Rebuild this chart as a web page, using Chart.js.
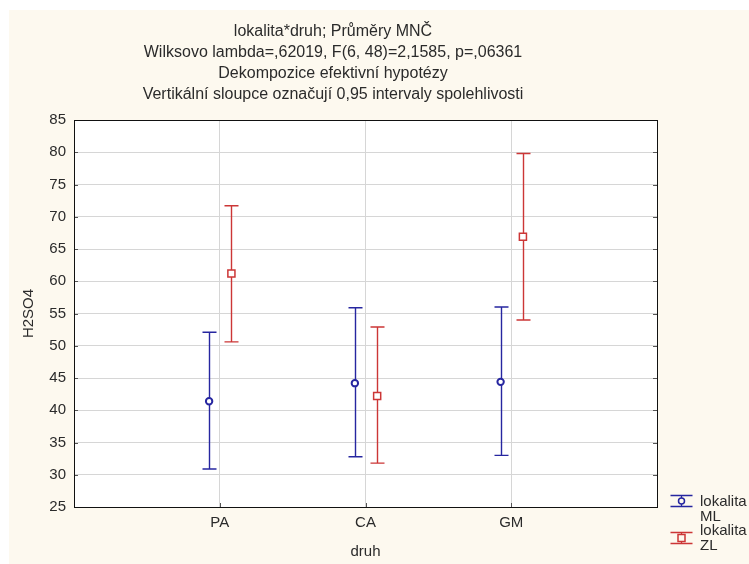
<!DOCTYPE html>
<html>
<head>
<meta charset="utf-8">
<script src="https://cdn.jsdelivr.net/npm/chart.js@4/dist/chart.umd.min.js"></script>
<style>
  html, body { margin: 0; padding: 0; background: #ffffff; }
  #wrap { position: relative; width: 749px; height: 564px; }
</style>
</head>
<body>
<div id="wrap"><canvas id="c" width="749" height="564"></canvas></div>
<script>
// ---- data ----
const categories = ['PA', 'CA', 'GM'];
const mlMean = [41.4, 44.2, 44.4];
const mlLow  = [30.9, 32.8, 33.0];
const mlHigh = [52.1, 55.9, 56.0];
const zlMean = [61.2, 42.2, 66.9];
const zlLow  = [50.6, 31.8, 54.0];
const zlHigh = [71.7, 52.9, 79.8];
const yTickValues = [25, 30, 35, 40, 45, 50, 55, 60, 65, 70, 75, 80, 85];
const seriesLabels = [['lokalita', 'ML'], ['lokalita', 'ZL']];
const titleLines = [
  'lokalita*druh; Průměry MNČ',
  'Wilksovo lambda=,62019, F(6, 48)=2,1585, p=,06361',
  'Dekompozice efektivní hypotézy',
  'Vertikální sloupce označují 0,95 intervaly spolehlivosti'
];
const xTitle = 'druh';
const yTitle = 'H2SO4';

// ---- styling ----
const BLUE = '#2626a0';
const RED = '#cc3636';
const TEXT = '#2b2b2b';
const FONT = "'Liberation Sans', Arial, sans-serif";
const OFF_ML = -0.073, OFF_ZL = 0.08;

function pts(means, lows, highs, off) {
  return means.map((m, i) => ({ x: i + 1 + off, y: m, lo: lows[i], hi: highs[i] }));
}

const bgPlugin = {
  id: 'bg',
  beforeDraw(chart) {
    const { ctx, chartArea: a } = chart;
    ctx.save();
    ctx.fillStyle = '#ffffff';
    ctx.fillRect(0, 0, chart.width, chart.height);
    ctx.fillStyle = '#fdf9ef';
    ctx.fillRect(9, 10, chart.width - 9, chart.height - 10);
    ctx.fillStyle = '#ffffff';
    ctx.fillRect(a.left, a.top, a.right - a.left, a.bottom - a.top);
    ctx.restore();
  }
};

const errorBars = {
  id: 'errorBars',
  beforeDatasetsDraw(chart) {
    const { ctx, scales: { x, y } } = chart;
    ctx.save();
    chart.data.datasets.forEach((ds) => {
      ctx.strokeStyle = ds.borderColor;
      ctx.lineWidth = 1.4;
      ds.data.forEach((p) => {
        const px = Math.round(x.getPixelForValue(p.x)) + 0.5;
        const yl = y.getPixelForValue(p.lo);
        const yh = y.getPixelForValue(p.hi);
        ctx.beginPath();
        ctx.moveTo(px, yh); ctx.lineTo(px, yl);
        ctx.moveTo(px - 7, yh); ctx.lineTo(px + 7, yh);
        ctx.moveTo(px - 7, yl); ctx.lineTo(px + 7, yl);
        ctx.stroke();
      });
    });
    ctx.restore();
  }
};

const frame = {
  id: 'frame',
  afterDraw(chart) {
    const { ctx, chartArea: a, scales: { x, y } } = chart;
    ctx.save();
    ctx.strokeStyle = '#555555';
    ctx.lineWidth = 1;
    ctx.beginPath();
    y.ticks.forEach(t => {
      const py = Math.round(y.getPixelForValue(t.value)) + 0.5;
      ctx.moveTo(a.left, py); ctx.lineTo(a.left + 4, py);
      ctx.moveTo(a.right, py); ctx.lineTo(a.right - 4, py);
    });
    x.ticks.forEach(t => {
      const px = Math.round(x.getPixelForValue(t.value)) + 0.5;
      ctx.moveTo(px, a.bottom); ctx.lineTo(px, a.bottom - 4);
    });
    ctx.stroke();
    ctx.strokeStyle = '#111111';
    ctx.strokeRect(Math.round(a.left) + 0.5, Math.round(a.top) + 0.5,
      Math.round(a.right - a.left), Math.round(a.bottom - a.top));
    ctx.restore();
  }
};

const legendPlugin = {
  id: 'customLegend',
  afterDraw(chart) {
    const { ctx } = chart;
    ctx.save();
    const items = [{ sy: 501, ty: 502 }, { sy: 538, ty: 531 }];
    chart.data.datasets.forEach((ds, i) => {
      const it = items[i];
      const cx = 681.5;
      ctx.strokeStyle = ds.borderColor;
      ctx.lineWidth = 1.3;
      ctx.beginPath();
      ctx.moveTo(cx - 11, it.sy - 5.5); ctx.lineTo(cx + 11, it.sy - 5.5);
      ctx.moveTo(cx - 11, it.sy + 5.5); ctx.lineTo(cx + 11, it.sy + 5.5);
      ctx.moveTo(cx, it.sy - 5.5); ctx.lineTo(cx, it.sy + 5.5);
      ctx.stroke();
      ctx.fillStyle = '#fdf9ef';
      ctx.lineWidth = 1.5;
      ctx.beginPath();
      if (ds.pointStyle === 'rect') {
        ctx.rect(cx - 3.5, it.sy - 3.5, 7, 7);
      } else {
        ctx.arc(cx, it.sy, 3, 0, Math.PI * 2);
      }
      ctx.fill(); ctx.stroke();
      ctx.fillStyle = TEXT;
      ctx.font = '15px ' + FONT;
      ctx.textBaseline = 'middle';
      ctx.textAlign = 'left';
      ds.label.forEach((line, k) => ctx.fillText(line, 700, it.ty + k * 15));
    });
    ctx.restore();
  }
};

new Chart(document.getElementById('c'), {
  type: 'scatter',
  data: {
    datasets: [
      {
        label: seriesLabels[0],
        data: pts(mlMean, mlLow, mlHigh, OFF_ML),
        borderColor: BLUE, backgroundColor: '#ffffff',
        pointStyle: 'circle', pointRadius: 3.2, pointBorderWidth: 2,
        showLine: false
      },
      {
        label: seriesLabels[1],
        data: pts(zlMean, zlLow, zlHigh, OFF_ZL),
        borderColor: RED, backgroundColor: '#ffffff',
        pointStyle: 'rect', pointRadius: 5, pointBorderWidth: 1.5,
        showLine: false
      }
    ]
  },
  options: {
    responsive: false,
    animation: false,
    devicePixelRatio: 1,
    layout: { padding: { top: 10, left: 9, right: 92, bottom: 0 } },
    plugins: {
      legend: { display: false },
      tooltip: { enabled: false },
      title: {
        display: true,
        text: titleLines,
        color: TEXT,
        font: { family: FONT, size: 16, weight: 'normal', lineHeight: 21 / 16 },
        padding: { top: 11.5, bottom: 14.5 }
      }
    },
    scales: {
      x: {
        type: 'linear',
        min: 0, max: 4,
        afterBuildTicks: (s) => { s.ticks = categories.map((c, i) => ({ value: i + 1 })); },
        afterFit: (s) => { s.height = 57; },
        ticks: {
          callback: (v) => categories[v - 1] || '',
          color: TEXT, padding: 7,
          font: { family: FONT, size: 15 },
          maxRotation: 0
        },
        grid: { color: '#d6d6d6', drawTicks: false, lineWidth: 1 },
        border: { display: false },
        title: {
          display: true, text: xTitle, color: TEXT,
          font: { family: FONT, size: 15 },
          padding: { top: 0, bottom: 3 }
        }
      },
      y: {
        min: 25, max: 85,
        afterBuildTicks: (s) => { s.ticks = yTickValues.map(v => ({ value: v })); },
        afterFit: (s) => { s.width = 65; },
        ticks: {
          color: TEXT, padding: 8,
          font: { family: FONT, size: 15 }
        },
        grid: { color: '#d6d6d6', drawTicks: false, lineWidth: 1 },
        border: { display: false },
        title: {
          display: true, text: yTitle, color: TEXT,
          font: { family: FONT, size: 15 },
          padding: { top: 11, bottom: 0 }
        }
      }
    }
  },
  plugins: [bgPlugin, errorBars, frame, legendPlugin]
});
</script>
</body>
</html>
